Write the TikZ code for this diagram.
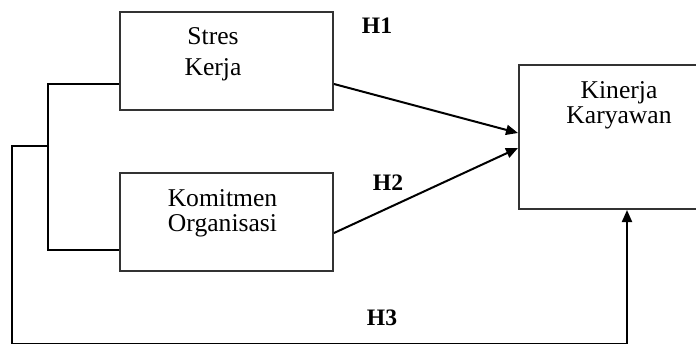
\documentclass[tikz,border=0pt]{standalone}
\usepackage{fontspec}
\setmainfont{Liberation Serif}
\usetikzlibrary{arrows.meta,calc,fit}

\begin{document}
\begin{tikzpicture}[x=0.5pt,y=-0.5pt,arrow/.style = {line width=1pt,-{Triangle[length=6pt,width=5pt]}}]
				\tikzset{var/.style={draw=black!80,line width=1pt,rectangle,inner sep=0pt},
					txt/.style={anchor=north,inner sep=0pt,align=center,font=\fontsize{12.8}{12.6}\selectfont},
					hyp/.style={inner sep=0pt,font=\fontsize{11.8}{12}\selectfont\bfseries}}
				\path[use as bounding box] (0,0) rectangle (696,343);
				\clip (0,0) rectangle (696,343);

				% Variabel bebas
				\node[var, fit={(120,12) (333,110)}, label={[txt, xshift=-6.75pt, yshift=-8pt]north:Stres\\[3pt]Kerja}] (stres) {};
				\node[var, fit={(120,173) (333,271)}, label={[txt, xshift=-2pt, yshift=-8.5pt]north:Komitmen\\Organisasi}] (komit) {};

				% Variabel terikat
				\node[var, fit={(519,65) (735,209)}, label={[txt, xshift=-4pt, yshift=-8.5pt]north:Kinerja\\Karyawan}] (kin) {};

				\node[hyp] (h1) at (377,26) {H1};
				\node[hyp] (h2) at (388,183) {H2};
				\node[hyp] (h3) at (382,318) {H3};

				\draw [arrow] ([yshift=-11.5pt]stres.east) -- ([yshift=2pt]kin.west);
				\draw [arrow] ([yshift=-5.5pt]komit.east) -- ([yshift=-5.5pt]kin.west);

				\draw [line width=1pt] ([yshift=-11.5pt]stres.west) -- ++(-35.5pt,0) |- ([yshift=-14pt]komit.west);
				\coordinate (mid) at (49,146);
				\coordinate (corner) at (12,343.5);
				\draw [arrow] (mid) -| (corner) -| (kin.south);

			\end{tikzpicture}
\end{document}
